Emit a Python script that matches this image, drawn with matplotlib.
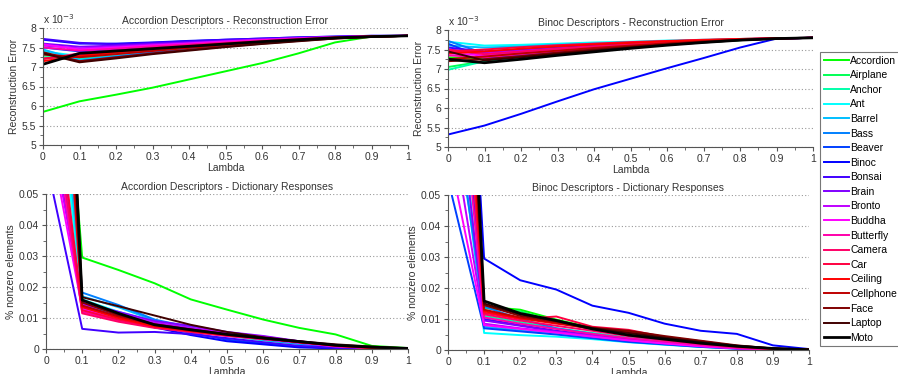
import matplotlib
matplotlib.use("Agg")
import matplotlib.pyplot as plt
from matplotlib.ticker import MultipleLocator, FuncFormatter

plt.rcParams['font.family'] = ['Liberation Sans', 'DejaVu Sans']

lambdas = [0.0, 0.1, 0.2, 0.3, 0.4, 0.5, 0.6, 0.7, 0.8, 0.9, 1.0]

categories = ["Accordion", "Airplane", "Anchor", "Ant", "Barrel", "Bass", "Beaver",
              "Binoc", "Bonsai", "Brain", "Bronto", "Buddha", "Butterfly", "Camera",
              "Car", "Ceiling", "Cellphone", "Face", "Laptop", "Moto"]

colors = ["#00ff00", "#00ff55", "#00ffaa", "#00ffff", "#00bfff", "#0080ff", "#0040ff",
          "#0000ff", "#4000ff", "#8000ff", "#bf00ff", "#ff00ff", "#ff00aa", "#ff0066",
          "#ff0040", "#ff0000", "#bf0000", "#800000", "#400000", "#000000"]

# Reconstruction error (x 1e-3), Accordion descriptors
recon_accordion = [
    [5.85, 6.12, 6.29, 6.47, 6.68, 6.89, 7.10, 7.35, 7.63, 7.78, 7.80],
    [7.30, 7.22, 7.32, 7.41, 7.49, 7.56, 7.63, 7.69, 7.74, 7.78, 7.80],
    [7.25, 7.20, 7.30, 7.40, 7.48, 7.56, 7.63, 7.69, 7.74, 7.78, 7.80],
    [7.40, 7.28, 7.36, 7.44, 7.51, 7.58, 7.64, 7.70, 7.75, 7.78, 7.80],
    [7.45, 7.18, 7.28, 7.38, 7.47, 7.55, 7.62, 7.68, 7.74, 7.78, 7.80],
    [7.35, 7.15, 7.26, 7.37, 7.46, 7.54, 7.62, 7.68, 7.74, 7.78, 7.80],
    [7.50, 7.40, 7.45, 7.51, 7.57, 7.63, 7.68, 7.72, 7.76, 7.79, 7.80],
    [7.70, 7.60, 7.60, 7.63, 7.67, 7.70, 7.73, 7.76, 7.78, 7.80, 7.80],
    [7.72, 7.62, 7.58, 7.62, 7.66, 7.70, 7.73, 7.76, 7.78, 7.80, 7.80],
    [7.60, 7.52, 7.55, 7.59, 7.63, 7.67, 7.71, 7.74, 7.77, 7.79, 7.80],
    [7.55, 7.48, 7.52, 7.57, 7.61, 7.66, 7.70, 7.74, 7.77, 7.79, 7.80],
    [7.58, 7.45, 7.50, 7.55, 7.60, 7.65, 7.69, 7.73, 7.76, 7.79, 7.80],
    [7.50, 7.42, 7.47, 7.53, 7.58, 7.63, 7.68, 7.72, 7.76, 7.79, 7.80],
    [7.20, 7.35, 7.42, 7.49, 7.55, 7.61, 7.66, 7.71, 7.75, 7.78, 7.80],
    [7.22, 7.30, 7.38, 7.46, 7.53, 7.59, 7.65, 7.70, 7.75, 7.78, 7.80],
    [7.15, 7.28, 7.37, 7.45, 7.52, 7.59, 7.65, 7.70, 7.75, 7.78, 7.80],
    [7.32, 7.25, 7.33, 7.41, 7.49, 7.56, 7.63, 7.69, 7.74, 7.78, 7.80],
    [7.38, 7.15, 7.25, 7.35, 7.44, 7.52, 7.60, 7.67, 7.73, 7.77, 7.80],
    [7.35, 7.12, 7.22, 7.33, 7.42, 7.51, 7.59, 7.66, 7.73, 7.77, 7.80],
    [7.07, 7.35, 7.41, 7.47, 7.53, 7.59, 7.65, 7.70, 7.75, 7.78, 7.80],
]

# Reconstruction error (x 1e-3), Binoc descriptors
recon_binoc = [
    [7.30, 7.25, 7.34, 7.43, 7.50, 7.57, 7.64, 7.70, 7.75, 7.79, 7.80],
    [7.05, 7.20, 7.30, 7.40, 7.48, 7.56, 7.63, 7.69, 7.74, 7.78, 7.80],
    [6.98, 7.20, 7.30, 7.40, 7.48, 7.56, 7.63, 7.69, 7.74, 7.78, 7.80],
    [7.70, 7.60, 7.62, 7.65, 7.68, 7.70, 7.73, 7.75, 7.77, 7.79, 7.80],
    [7.60, 7.55, 7.58, 7.62, 7.65, 7.68, 7.71, 7.74, 7.76, 7.79, 7.80],
    [7.72, 7.40, 7.45, 7.51, 7.57, 7.62, 7.67, 7.71, 7.75, 7.78, 7.80],
    [7.65, 7.28, 7.36, 7.44, 7.51, 7.58, 7.64, 7.70, 7.75, 7.78, 7.80],
    [5.32, 5.55, 5.85, 6.17, 6.48, 6.75, 7.02, 7.28, 7.55, 7.78, 7.80],
    [7.55, 7.45, 7.50, 7.55, 7.60, 7.64, 7.68, 7.72, 7.76, 7.79, 7.80],
    [7.50, 7.42, 7.47, 7.53, 7.58, 7.63, 7.67, 7.71, 7.75, 7.78, 7.80],
    [7.45, 7.40, 7.46, 7.52, 7.57, 7.62, 7.67, 7.71, 7.75, 7.78, 7.80],
    [7.40, 7.35, 7.42, 7.49, 7.55, 7.61, 7.66, 7.71, 7.75, 7.78, 7.80],
    [7.35, 7.30, 7.38, 7.46, 7.53, 7.60, 7.65, 7.70, 7.75, 7.78, 7.80],
    [7.50, 7.38, 7.45, 7.52, 7.58, 7.63, 7.68, 7.72, 7.76, 7.79, 7.80],
    [7.45, 7.50, 7.56, 7.61, 7.65, 7.69, 7.72, 7.75, 7.77, 7.79, 7.80],
    [7.40, 7.45, 7.52, 7.58, 7.63, 7.67, 7.71, 7.74, 7.77, 7.79, 7.80],
    [7.25, 7.32, 7.40, 7.47, 7.54, 7.60, 7.66, 7.71, 7.75, 7.78, 7.80],
    [7.20, 7.25, 7.33, 7.42, 7.50, 7.57, 7.64, 7.70, 7.75, 7.78, 7.80],
    [7.45, 7.22, 7.30, 7.39, 7.47, 7.55, 7.62, 7.68, 7.74, 7.78, 7.80],
    [7.25, 7.16, 7.25, 7.35, 7.44, 7.53, 7.61, 7.68, 7.74, 7.78, 7.80],
]

# Fraction of nonzero elements, Accordion descriptors
resp_accordion = [
    [0.170, 0.0295, 0.0255, 0.0212, 0.0160, 0.0127, 0.0095, 0.0068, 0.0047, 0.0010, 0.0003],
    [0.150, 0.0150, 0.0115, 0.0085, 0.0065, 0.0045, 0.0030, 0.0018, 0.0008, 0.0003, 0.0001],
    [0.130, 0.0145, 0.0112, 0.0083, 0.0062, 0.0043, 0.0028, 0.0016, 0.0007, 0.0003, 0.0001],
    [0.120, 0.0160, 0.0120, 0.0088, 0.0065, 0.0045, 0.0030, 0.0018, 0.0008, 0.0003, 0.0001],
    [0.140, 0.0170, 0.0135, 0.0092, 0.0068, 0.0046, 0.0030, 0.0017, 0.0007, 0.0002, 0.0001],
    [0.160, 0.0182, 0.0142, 0.0095, 0.0070, 0.0048, 0.0031, 0.0018, 0.0007, 0.0002, 0.0001],
    [0.100, 0.0130, 0.0100, 0.0075, 0.0052, 0.0030, 0.0018, 0.0008, 0.0003, 0.0001, 0.0000],
    [0.085, 0.0140, 0.0105, 0.0070, 0.0045, 0.0025, 0.0015, 0.0005, 0.0002, 0.0001, 0.0000],
    [0.061, 0.0065, 0.0053, 0.0055, 0.0048, 0.0035, 0.0022, 0.0010, 0.0004, 0.0001, 0.0000],
    [0.090, 0.0150, 0.0120, 0.0090, 0.0075, 0.0055, 0.0042, 0.0025, 0.0010, 0.0003, 0.0001],
    [0.080, 0.0145, 0.0115, 0.0085, 0.0068, 0.0052, 0.0040, 0.0024, 0.0010, 0.0003, 0.0001],
    [0.075, 0.0130, 0.0100, 0.0078, 0.0060, 0.0045, 0.0032, 0.0020, 0.0008, 0.0003, 0.0001],
    [0.090, 0.0120, 0.0092, 0.0070, 0.0055, 0.0042, 0.0032, 0.0024, 0.0010, 0.0003, 0.0001],
    [0.100, 0.0115, 0.0088, 0.0068, 0.0055, 0.0043, 0.0032, 0.0025, 0.0010, 0.0003, 0.0001],
    [0.110, 0.0125, 0.0095, 0.0072, 0.0058, 0.0045, 0.0035, 0.0022, 0.0010, 0.0003, 0.0001],
    [0.180, 0.0135, 0.0100, 0.0073, 0.0058, 0.0045, 0.0035, 0.0022, 0.0012, 0.0004, 0.0001],
    [0.200, 0.0140, 0.0105, 0.0078, 0.0060, 0.0046, 0.0035, 0.0022, 0.0012, 0.0004, 0.0001],
    [0.220, 0.0150, 0.0110, 0.0080, 0.0063, 0.0048, 0.0035, 0.0022, 0.0013, 0.0005, 0.0001],
    [0.250, 0.0167, 0.0138, 0.0108, 0.0078, 0.0055, 0.0038, 0.0025, 0.0015, 0.0008, 0.0002],
    [0.260, 0.0158, 0.0115, 0.0078, 0.0062, 0.0047, 0.0035, 0.0024, 0.0012, 0.0006, 0.0002],
]

# Fraction of nonzero elements, Binoc descriptors
resp_binoc = [
    [0.200, 0.0140, 0.0130, 0.0098, 0.0072, 0.0050, 0.0035, 0.0022, 0.0012, 0.0004, 0.0001],
    [0.180, 0.0135, 0.0125, 0.0090, 0.0068, 0.0048, 0.0033, 0.0020, 0.0010, 0.0003, 0.0001],
    [0.150, 0.0110, 0.0090, 0.0070, 0.0055, 0.0040, 0.0028, 0.0017, 0.0008, 0.0003, 0.0001],
    [0.120, 0.0055, 0.0048, 0.0043, 0.0035, 0.0025, 0.0017, 0.0010, 0.0005, 0.0002, 0.0001],
    [0.100, 0.0075, 0.0063, 0.0052, 0.0040, 0.0028, 0.0019, 0.0011, 0.0005, 0.0002, 0.0001],
    [0.090, 0.0140, 0.0100, 0.0070, 0.0052, 0.0035, 0.0024, 0.0014, 0.0006, 0.0002, 0.0001],
    [0.055, 0.0070, 0.0060, 0.0050, 0.0038, 0.0026, 0.0018, 0.0010, 0.0004, 0.0002, 0.0001],
    [0.230, 0.0295, 0.0225, 0.0195, 0.0143, 0.0120, 0.0085, 0.0062, 0.0052, 0.0015, 0.0003],
    [0.140, 0.0100, 0.0080, 0.0062, 0.0048, 0.0034, 0.0024, 0.0014, 0.0006, 0.0002, 0.0001],
    [0.110, 0.0095, 0.0078, 0.0060, 0.0046, 0.0033, 0.0023, 0.0013, 0.0006, 0.0002, 0.0001],
    [0.080, 0.0085, 0.0070, 0.0058, 0.0045, 0.0032, 0.0022, 0.0013, 0.0006, 0.0002, 0.0001],
    [0.065, 0.0080, 0.0068, 0.0056, 0.0043, 0.0031, 0.0021, 0.0012, 0.0005, 0.0002, 0.0001],
    [0.130, 0.0105, 0.0085, 0.0068, 0.0052, 0.0038, 0.0027, 0.0016, 0.0007, 0.0002, 0.0001],
    [0.160, 0.0115, 0.0095, 0.0078, 0.0062, 0.0045, 0.0032, 0.0020, 0.0009, 0.0003, 0.0001],
    [0.170, 0.0120, 0.0100, 0.0108, 0.0075, 0.0065, 0.0042, 0.0028, 0.0012, 0.0004, 0.0001],
    [0.190, 0.0125, 0.0102, 0.0085, 0.0070, 0.0055, 0.0040, 0.0026, 0.0012, 0.0004, 0.0001],
    [0.210, 0.0130, 0.0105, 0.0088, 0.0068, 0.0058, 0.0042, 0.0028, 0.0013, 0.0004, 0.0001],
    [0.220, 0.0145, 0.0110, 0.0092, 0.0072, 0.0062, 0.0045, 0.0030, 0.0015, 0.0005, 0.0001],
    [0.240, 0.0150, 0.0115, 0.0095, 0.0070, 0.0055, 0.0040, 0.0026, 0.0014, 0.0005, 0.0001],
    [0.250, 0.0158, 0.0118, 0.0095, 0.0068, 0.0048, 0.0035, 0.0022, 0.0012, 0.0005, 0.0001],
]

titles = ["Accordion Descriptors - Reconstruction Error",
          "Binoc Descriptors - Reconstruction Error",
          "Accordion Descriptors - Dictionary Responses",
          "Binoc Descriptors - Dictionary Responses"]

W, H = 898, 374
fig = plt.figure(figsize=(W / 100, H / 100), dpi=100)

def rect(x0, x1, ytop, ybot):
    return [x0 / W, 1 - ybot / H, (x1 - x0) / W, (ybot - ytop) / H]

ax_tl = fig.add_axes(rect(43, 408, 28, 145))
ax_tr = fig.add_axes(rect(448, 813, 30, 147))
ax_bl = fig.add_axes(rect(46, 408, 194, 349))
ax_br = fig.add_axes(rect(448, 809, 195, 350))

axis_col = "#555555"
text_col = "#333333"
fs = 7.5

def style(ax, top):
    for s in ["top", "right"]:
        ax.spines[s].set_visible(False)
    for s in ["left", "bottom"]:
        ax.spines[s].set_color(axis_col)
        ax.spines[s].set_linewidth(0.8)
    ax.set_xlim(0, 1)
    ax.xaxis.set_major_locator(MultipleLocator(0.1))
    ax.xaxis.set_minor_locator(MultipleLocator(0.05))
    if top:
        ax.set_ylim(5, 8)
        ax.yaxis.set_major_locator(MultipleLocator(0.5))
        ax.yaxis.set_minor_locator(MultipleLocator(0.25))
        ax.set_ylabel("Reconstruction Error", fontsize=fs, color=text_col, labelpad=2)
    else:
        ax.set_ylim(0, 0.05)
        ax.yaxis.set_major_locator(MultipleLocator(0.01))
        ax.yaxis.set_minor_locator(MultipleLocator(0.005))
        ax.set_ylabel("% nonzero elements", fontsize=fs, color=text_col, labelpad=2)
    ax.set_xlabel("Lambda", fontsize=fs, color=text_col, labelpad=1)
    ax.tick_params(axis="both", which="major", direction="out", length=3, width=0.8,
                   color=axis_col, labelsize=fs, labelcolor=text_col, pad=2)
    ax.tick_params(axis="both", which="minor", direction="out", length=2, width=0.6,
                   color=axis_col)
    ax.grid(True, axis="y", which="major", linestyle=(0, (1, 2)), color="#999999", linewidth=0.8)
    ax.set_axisbelow(True)
    ax.set_facecolor("white")

panels = [(ax_tl, recon_accordion, True), (ax_tr, recon_binoc, True),
          (ax_bl, resp_accordion, False), (ax_br, resp_binoc, False)]

handles = []
for i, (ax, data, top) in enumerate(panels):
    style(ax, top)
    for name, col, ys in zip(categories, colors, data):
        lw = 2.0 if name == "Moto" else 1.4
        ln, = ax.plot(lambdas, ys, color=col, lw=lw, label=name)
        if i == 0:
            handles.append(ln)
    ax.xaxis.set_major_formatter(FuncFormatter(lambda v, p: "%g" % round(v, 2)))
    ax.yaxis.set_major_formatter(FuncFormatter(lambda v, p: "%g" % round(v, 3)))
    ax.set_title(titles[i], fontsize=fs, color=text_col, pad=3)
    if top:
        ax.text(0.0, 1.015, r"x 10$^{-3}$", transform=ax.transAxes, fontsize=fs,
                color=text_col, ha="left", va="bottom")

leg = fig.legend(handles, categories, loc="upper left",
                 bbox_to_anchor=(820 / W, 1 - 52 / H), fontsize=7.5,
                 frameon=True, fancybox=False, edgecolor="#555555",
                 handlelength=2.4, handletextpad=0.15, labelspacing=0.44,
                 borderpad=0.35, borderaxespad=0.0)
leg.get_frame().set_linewidth(0.8)

fig.savefig("out.png", dpi=100, facecolor="white")
